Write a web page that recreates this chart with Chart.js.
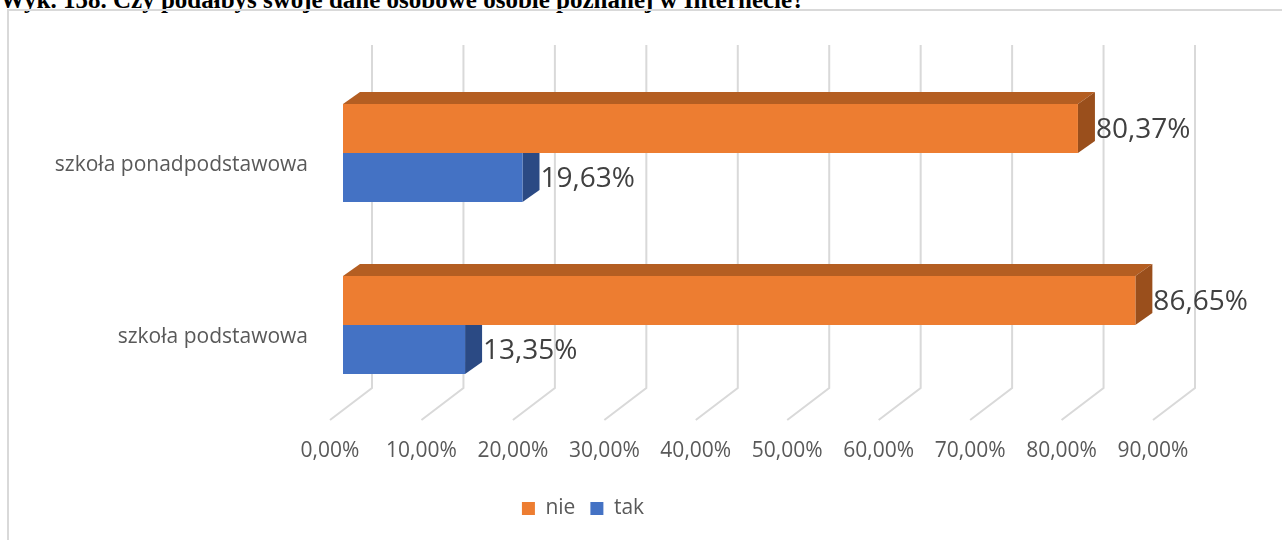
<!DOCTYPE html>
<html lang="pl">
<head>
<meta charset="utf-8">
<title>Wyk. 158</title>
<script src="https://cdn.jsdelivr.net/npm/chart.js@4.4.1/dist/chart.umd.min.js"></script>
<style>
  html, body { margin: 0; padding: 0; background: #fff; overflow: hidden; }
  body { width: 1282px; height: 540px; position: relative; }
  #title {
    position: absolute; left: 0; top: -14px; line-height: 25px;
    font: bold 25px "Liberation Serif", "Times New Roman", serif; color: #000; white-space: nowrap;
  }
  #frame {
    position: absolute; left: 7px; top: 9px; width: 1300px; height: 600px;
    border: 2px solid #d9d9d9; box-sizing: border-box;
  }
  #chart { position: absolute; left: 0; top: 0; }
</style>
</head>
<body>
<div id="title">Wyk. 158. Czy podałbyś swoje dane osobowe osobie poznanej w Internecie?</div>
<div id="frame"></div>
<canvas id="chart" width="1282" height="540"></canvas>
<script>
const categories = ["szkoła ponadpodstawowa", "szkoła podstawowa"];
const nieValues = [80.37, 86.65];
const takValues = [19.63, 13.35];
const xTicks = [0, 10, 20, 30, 40, 50, 60, 70, 80, 90];

const fmt = v => v.toFixed(2).replace(".", ",") + "%";

// 3D look: depth offsets in px
const BAR_DX = 17, BAR_DY = 12;

const shade = {
  nie: { top: "#b45e22", side: "#9a4f1c" },
  tak: { top: "#2f5597", side: "#2b4a84" }
};

const bar3d = {
  id: "bar3d",
  beforeDatasetsDraw(chart) {
    const { ctx, chartArea, scales } = chart;
    const xs = scales.x;

    // back wall + floor grid
    ctx.save();
    ctx.strokeStyle = "#d9d9d9";
    ctx.lineWidth = 2;
    xTicks.forEach(v => {
      const xf = xs.getPixelForValue(v);
      ctx.beginPath();
      ctx.moveTo(xf + 29, chartArea.top - 22);
      ctx.lineTo(xf + 29, chartArea.bottom - 23);
      ctx.lineTo(xf - 13, chartArea.bottom + 9);
      ctx.stroke();
    });
    ctx.restore();

    // top + side faces
    chart.data.datasets.forEach((ds, i) => {
      const meta = chart.getDatasetMeta(i);
      const c = shade[ds.label];
      meta.data.forEach(el => {
        const { x, y, base, height } = el.getProps(["x", "y", "base", "height"], true);
        const t = y - height / 2, b = y + height / 2;
        ctx.fillStyle = c.top;
        ctx.beginPath();
        ctx.moveTo(base, t);
        ctx.lineTo(x, t);
        ctx.lineTo(x + BAR_DX, t - BAR_DY);
        ctx.lineTo(base + BAR_DX, t - BAR_DY);
        ctx.closePath();
        ctx.fill();
        ctx.fillStyle = c.side;
        ctx.beginPath();
        ctx.moveTo(x, t);
        ctx.lineTo(x + BAR_DX, t - BAR_DY);
        ctx.lineTo(x + BAR_DX, b - BAR_DY);
        ctx.lineTo(x, b);
        ctx.closePath();
        ctx.fill();
      });
    });
  },
  afterDatasetsDraw(chart) {
    const { ctx } = chart;
    ctx.save();
    ctx.font = '28px "Open Sans"';
    ctx.fillStyle = "#404040";
    ctx.textAlign = "left";
    ctx.textBaseline = "middle";
    chart.data.datasets.forEach((ds, i) => {
      chart.getDatasetMeta(i).data.forEach((el, j) => {
        const { x, y } = el.getProps(["x", "y"], true);
        ctx.fillText(fmt(ds.data[j]), x + BAR_DX + 1, y + 2);
      });
    });
    ctx.restore();
  }
};

new Chart(document.getElementById("chart"), {
  type: "bar",
  data: {
    labels: categories,
    datasets: [
      { label: "nie", data: nieValues, backgroundColor: "#ed7d31" },
      { label: "tak", data: takValues, backgroundColor: "#4472c4" }
    ]
  },
  options: {
    indexAxis: "y",
    responsive: false,
    animation: false,
    categoryPercentage: 0.57,
    barPercentage: 1,
    layout: { padding: { top: 67, right: 116, left: 0, bottom: 11 } },
    scales: {
      x: {
        min: 0, max: 90,
        grid: { display: false, drawTicks: false },
        border: { display: false },
        afterBuildTicks: s => { s.ticks = xTicks.map(v => ({ value: v })); },
        afterFit: s => { s.height = 72; },
        ticks: {
          callback: v => fmt(v),
          font: { family: "Open Sans", size: 21 },
          color: "#595959",
          padding: 27,
          labelOffset: -13,
          maxRotation: 0
        }
      },
      y: {
        grid: { display: false, drawTicks: false },
        border: { display: false },
        afterFit: s => { s.width = 343; },
        ticks: {
          font: { family: "Open Sans", size: 21 },
          color: "#595959",
          padding: 35,
          labelOffset: 12
        }
      }
    },
    plugins: {
      legend: {
        position: "bottom",
        labels: {
          boxWidth: 13, boxHeight: 13, padding: 15,
          font: { family: "Open Sans", size: 21 },
          color: "#595959"
        }
      },
      tooltip: { enabled: false }
    }
  },
  plugins: [bar3d]
});
</script>
</body>
</html>
